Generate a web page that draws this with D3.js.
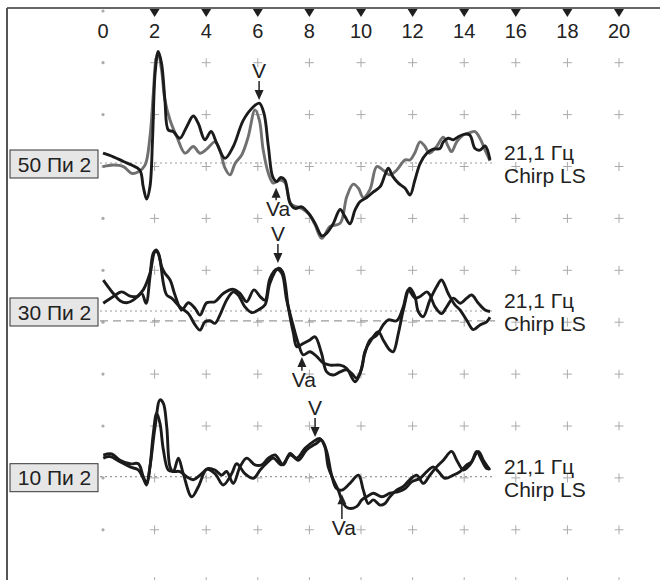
<!DOCTYPE html>
<html>
<head>
<meta charset="utf-8">
<script src="https://cdn.jsdelivr.net/npm/d3@7"></script>
<style>
html,body{margin:0;padding:0;background:#fff;}
svg{display:block;font-family:"Liberation Sans",Arial,sans-serif;}
</style>
</head>
<body>
<div id="chart"></div>
<script>
// ---- data ----
var ticksX=[0,2,4,6,8,10,12,14,16,18,20];
var gridRows=[0,1,2,3,4,5,6,7,8,9,10];
var levelLabels=["50 Пи 2","30 Пи 2","10 Пи 2"];
var rateLabel="21,1 Гц";
var stimLabel="Chirp LS";

// [ms, amplitude] ; amplitude in grid divisions
var trace50grey=[[0,-0.07],[0.4,-0.04],[0.79,-0.07],[1.11,-0.2],[1.37,-0.17],[1.63,-0.04],[1.82,0.51],[1.95,1.35],[2.05,2.0],[2.14,2.13],[2.27,1.8],[2.4,1.22],[2.6,0.83],[2.86,0.51],[3.18,0.19],[3.5,0.32],[3.76,0.19],[4.02,0.27],[4.34,0.41],[4.53,0.25],[4.73,-0.1],[4.92,-0.23],[5.12,-0.01],[5.38,0.16],[5.63,0.51],[5.89,1.03],[6.06,0.83],[6.21,0.25],[6.41,-0.2],[6.6,-0.39],[6.86,-0.33],[7.05,-0.38],[7.3,-0.8],[7.7,-0.88],[8.0,-1.0],[8.22,-1.2],[8.48,-1.46],[8.8,-1.23],[9.19,-1.17],[9.45,-0.65],[9.7,-0.41],[9.9,-0.49],[10.09,-0.67],[10.35,-0.51],[10.61,-0.07],[10.86,-0.14],[11.12,-0.23],[11.38,-0.14],[11.71,0.06],[11.9,0.06],[12.09,0.2],[12.29,0.41],[12.48,0.32],[12.65,0.19],[12.93,0.32],[13.19,0.5],[13.38,0.32],[13.51,0.22],[13.71,0.41],[13.96,0.54],[14.22,0.59],[14.42,0.61],[14.61,0.48],[14.81,0.25],[15.0,0.04]];
var trace50black=[[0,0.19],[0.4,0.12],[0.79,0.03],[1.11,-0.04],[1.43,-0.14],[1.56,-0.46],[1.69,-0.7],[1.82,-0.46],[1.92,0.45],[2.02,1.74],[2.14,2.16],[2.27,1.93],[2.4,1.22],[2.53,0.64],[2.72,0.61],[2.98,0.48],[3.24,0.7],[3.5,0.91],[3.69,0.77],[3.95,0.45],[4.19,0.61],[4.41,0.38],[4.73,0.09],[5.05,0.32],[5.44,0.83],[5.83,1.09],[6.06,1.16],[6.24,0.96],[6.41,0.32],[6.58,-0.27],[6.73,-0.36],[6.89,-0.28],[7.05,-0.33],[7.25,-0.78],[7.45,-0.88],[7.7,-0.85],[7.96,-0.97],[8.22,-1.17],[8.48,-1.41],[8.67,-1.36],[8.93,-1.17],[9.19,-0.9],[9.38,-1.04],[9.57,-1.18],[9.77,-0.91],[9.96,-0.75],[10.22,-0.67],[10.48,-0.56],[10.74,-0.46],[10.93,-0.23],[11.06,-0.1],[11.23,-0.26],[11.45,-0.39],[11.71,-0.49],[11.9,-0.62],[12.09,-0.33],[12.29,-0.01],[12.55,0.19],[12.8,0.27],[13.06,0.28],[13.19,0.41],[13.38,0.48],[13.58,0.45],[13.77,0.51],[14.03,0.56],[14.22,0.54],[14.42,0.28],[14.61,0.25],[14.81,0.33],[15.0,0.06]];
var trace30a=[[0.01,0.6],[0.4,0.34],[0.66,0.2],[0.92,0.16],[1.17,0.21],[1.56,0.41],[1.82,0.73],[2.02,1.15],[2.14,1.12],[2.27,0.86],[2.4,0.73],[2.6,0.6],[2.79,0.31],[3.05,0.02],[3.31,0.16],[3.57,0.05],[3.76,-0.08],[4.02,0.16],[4.34,0.18],[4.66,0.34],[5.05,0.42],[5.31,0.34],[5.57,0.18],[5.85,0.41],[6.09,0.28],[6.28,0.21],[6.47,0.63],[6.73,0.81],[6.93,0.73],[7.12,0.21],[7.38,-0.3],[7.57,-0.63],[7.76,-0.85],[8.02,-0.79],[8.28,-0.88],[8.54,-1.01],[8.8,-1.05],[9.19,-1.05],[9.44,-1.11],[9.77,-1.37],[9.96,-1.21],[10.15,-0.82],[10.35,-0.56],[10.61,-0.47],[10.86,-0.27],[11.06,-0.17],[11.38,-0.19],[11.64,0.08],[11.83,0.41],[12.09,0.25],[12.29,0.28],[12.55,0.37],[12.67,0.31],[12.87,0.08],[13.12,-0.05],[13.32,0.08],[13.58,0.25],[13.84,0.15],[14.1,0.25],[14.29,0.31],[14.55,0.15],[14.81,0.02],[15.0,-0.01]];
var trace30b=[[0.01,0.15],[0.4,0.28],[0.72,0.37],[1.05,0.29],[1.3,0.28],[1.5,0.34],[1.67,0.15],[1.82,0.66],[1.95,1.12],[2.08,1.18],[2.21,0.99],[2.34,0.54],[2.47,0.31],[2.66,0.25],[2.98,0.08],[3.31,-0.05],[3.57,-0.27],[3.76,-0.37],[3.95,-0.21],[4.15,-0.19],[4.34,-0.24],[4.53,-0.08],[4.79,0.21],[5.05,0.37],[5.24,0.31],[5.5,0.08],[5.76,-0.03],[6.02,0.02],[6.28,0.12],[6.47,0.54],[6.8,0.83],[6.96,0.76],[7.18,0.08],[7.38,-0.43],[7.51,-0.69],[7.76,-0.63],[8.02,-0.56],[8.22,-0.5],[8.47,-0.82],[8.67,-1.18],[8.93,-1.24],[9.19,-1.18],[9.44,-1.14],[9.64,-1.21],[9.83,-1.3],[10.03,-1.11],[10.15,-0.79],[10.41,-0.55],[10.67,-0.4],[10.86,-0.56],[11.12,-0.76],[11.25,-0.79],[11.45,-0.43],[11.64,0.02],[11.89,0.44],[12.09,0.28],[12.22,-0.01],[12.41,-0.11],[12.67,0.21],[12.93,0.47],[13.12,0.6],[13.38,0.34],[13.64,0.12],[13.84,0.02],[14.1,-0.18],[14.35,-0.36],[14.61,-0.27],[14.87,-0.21],[15.0,-0.12]];
var trace10a=[[0.01,0.42],[0.34,0.44],[0.66,0.32],[1.05,0.25],[1.37,0.25],[1.56,0.0],[1.69,-0.13],[1.82,0.19],[2.02,0.97],[2.21,1.49],[2.34,1.42],[2.47,0.97],[2.6,0.19],[2.73,0.1],[2.92,0.36],[3.11,0.06],[3.44,-0.39],[3.7,-0.19],[4.02,0.14],[4.34,0.06],[4.66,-0.16],[4.99,0.06],[5.18,0.25],[5.5,0.06],[5.83,-0.03],[6.09,0.13],[6.34,0.26],[6.6,0.36],[6.93,0.23],[7.25,0.42],[7.51,0.36],[7.83,0.55],[8.15,0.68],[8.41,0.74],[8.6,0.58],[8.73,0.19],[8.93,-0.06],[9.12,-0.26],[9.31,-0.52],[9.51,-0.61],[9.83,-0.58],[10.03,-0.45],[10.22,-0.39],[10.48,-0.32],[10.81,-0.39],[11.12,-0.32],[11.45,-0.29],[11.71,-0.23],[11.96,-0.1],[12.29,-0.03],[12.55,0.1],[12.8,0.19],[13.0,0.1],[13.25,-0.03],[13.58,0.03],[13.84,0.1],[14.1,0.23],[14.29,0.29],[14.48,0.49],[14.68,0.32],[14.87,0.16],[15.0,0.16]];
var trace10b=[[0.01,0.36],[0.27,0.39],[0.66,0.29],[1.05,0.19],[1.37,0.13],[1.56,-0.03],[1.69,-0.16],[1.82,0.19],[1.95,0.84],[2.08,1.23],[2.21,1.03],[2.34,0.52],[2.53,0.13],[2.73,0.1],[2.98,0.1],[3.24,0.0],[3.5,-0.06],[3.76,0.03],[4.08,0.16],[4.34,0.13],[4.6,0.03],[4.79,0.1],[5.05,-0.13],[5.31,0.19],[5.57,0.36],[5.89,0.23],[6.15,0.23],[6.41,0.36],[6.67,0.42],[6.99,0.23],[7.25,0.45],[7.57,0.32],[7.89,0.52],[8.28,0.65],[8.47,0.71],[8.67,0.49],[8.86,0.03],[9.05,-0.23],[9.25,-0.26],[9.57,-0.13],[9.9,0.03],[10.09,-0.26],[10.28,-0.52],[10.48,-0.45],[10.74,-0.55],[10.93,-0.52],[11.12,-0.39],[11.38,-0.26],[11.64,-0.19],[11.89,-0.06],[12.16,0.03],[12.42,-0.13],[12.67,0.03],[12.93,0.19],[13.19,0.32],[13.51,0.49],[13.71,0.32],[13.97,0.13],[14.22,0.23],[14.55,0.49],[14.74,0.32],[15.0,0.13]];

// wave V and Va marks, per panel
var vTime=[6.05,6.78,8.22];
var vAmp=[1.22,0.93,0.77];
var vaTime=[6.71,7.71,9.26];
var vaAmp=[-0.48,-0.89,-0.34];
var vaTextAmp=[-1.03,-1.47,-1.13];
var dashedRef=[null,-0.19,null];

// ---- layout ----
width=660;
height=580;
em=21;
baselines=[163,311,476.7];
unitPx=51.6;
traceEnd=15.2;

var panels=[
	{lines:[{d:trace50grey,c:"#707070"},{d:trace50black,c:"#1b1b1b"}]},
	{lines:[{d:trace30b,c:"#1b1b1b"},{d:trace30a,c:"#1b1b1b"}]},
	{lines:[{d:trace10b,c:"#1b1b1b"},{d:trace10a,c:"#1b1b1b"}]}
];

var x=d3.scaleLinear().domain([0,20]).range([103,619]);
var gy=d3.scaleLinear().domain([0,10]).range([62.7,581.7]);
//每個panel自己的y
var yOf=function(i){
	return d3.scaleLinear().domain([-1,1]).range([baselines[i]+unitPx,baselines[i]-unitPx]);
};

var svg=d3.select("#chart").append("svg").attr("width",width).attr("height",height);

// frame
svg.append("line").attr("x1",7).attr("x2",width).attr("y1",8).attr("y2",8)
	.attr("stroke","#333").attr("stroke-width",1.6);
svg.append("line").attr("x1",7).attr("x2",7).attr("y1",8).attr("y2",height)
	.attr("stroke","#555").attr("stroke-width",2);

// top markers + labels
var topG=svg.append("g");
topG.selectAll("path").data(ticksX.filter(function(d){return d>0})).enter().append("path")
	.attr("d",function(d){var cx=x(d);return "M"+(cx-5)+",9L"+(cx+5)+",9L"+cx+",17Z"})
	.attr("fill","#1e1e1e");
topG.selectAll("circle").data(ticksX.filter(function(d){return d==0})).enter().append("circle")
	.attr("cx",function(d){return x(d)}).attr("cy",11).attr("r",1.6).attr("fill","#aaa");
topG.selectAll("text").data(ticksX).enter().append("text")
	.attr("x",function(d){return x(d)}).attr("y",37.5)
	.attr("text-anchor","middle").attr("font-size",20).attr("fill","#222")
	.text(function(d){return d});

// grid marks
var grid=svg.append("g");
gridRows.forEach(function(r){
	ticksX.forEach(function(c){
		if(c==0){
			grid.append("circle").attr("cx",x(c)).attr("cy",gy(r)).attr("r",1.6).attr("fill","#aaa");
		}else{
			grid.append("path")
				.attr("d","M"+(x(c)-4.5)+","+gy(r)+"h9M"+x(c)+","+(gy(r)-4.5)+"v9")
				.attr("stroke","#aaa").attr("stroke-width",1).attr("fill","none");
		}
	});
});

// panels
panels.forEach(function(p,i){
	var y=yOf(i);
	var g=svg.append("g");

	g.append("line").attr("x1",100).attr("x2",x(traceEnd)).attr("y1",y(0)).attr("y2",y(0))
		.attr("stroke","#999").attr("stroke-width",1.2).attr("stroke-dasharray","2,3");
	if(dashedRef[i]!=null){
		g.append("line").attr("x1",100).attr("x2",x(traceEnd)).attr("y1",y(dashedRef[i])).attr("y2",y(dashedRef[i]))
			.attr("stroke","#999").attr("stroke-width",1.2).attr("stroke-dasharray","8,5");
	}

	var line=d3.line().x(function(d){return x(d[0])}).y(function(d){return y(d[1])})
		.curve(d3.curveCatmullRom.alpha(0.5));
	p.lines.forEach(function(l){
		g.append("path").attr("d",line(l.d)).attr("fill","none")
			.attr("stroke",l.c).attr("stroke-width",2.9).attr("stroke-linejoin","round");
	});

	// left box
	var by=y(0);
	g.append("rect").attr("x",10).attr("y",by-13).attr("width",88).attr("height",28)
		.attr("fill","#e6e6e6").attr("stroke","#333").attr("stroke-width",1);
	g.append("text").attr("x",54.5).attr("y",by+8.5).attr("text-anchor","middle")
		.attr("font-size",em).attr("fill","#222").text(levelLabels[i]);

	// right labels
	g.append("text").attr("x",504).attr("y",by-3).attr("font-size",em).attr("fill","#222").text(rateLabel);
	g.append("text").attr("x",504).attr("y",by+20).attr("font-size",em).attr("fill","#222").text(stimLabel);

	// V arrow (down)
	var vx=x(vTime[i]),vy=y(vAmp[i]);
	g.append("text").attr("x",vx).attr("y",vy-22).attr("text-anchor","middle")
		.attr("font-size",em).attr("fill","#222").text("V");
	g.append("line").attr("x1",vx).attr("x2",vx).attr("y1",vy-19).attr("y2",vy-5)
		.attr("stroke","#222").attr("stroke-width",1.5);
	g.append("path").attr("d","M"+(vx-4.5)+","+(vy-10)+"L"+(vx+4.5)+","+(vy-10)+"L"+vx+","+vy+"Z").attr("fill","#222");

	// Va arrow (up)
	var ax=x(vaTime[i]),ay=y(vaAmp[i]),ty=y(vaTextAmp[i]);
	g.append("line").attr("x1",ax).attr("x2",ax).attr("y1",ay+5).attr("y2",ty-16)
		.attr("stroke","#222").attr("stroke-width",1.5);
	g.append("path").attr("d","M"+(ax-4.5)+","+(ay+10)+"L"+(ax+4.5)+","+(ay+10)+"L"+ax+","+ay+"Z").attr("fill","#222");
	g.append("text").attr("x",ax+2).attr("y",ty).attr("text-anchor","middle")
		.attr("font-size",em).attr("fill","#222").text("Va");
});
</script>
</body>
</html>
